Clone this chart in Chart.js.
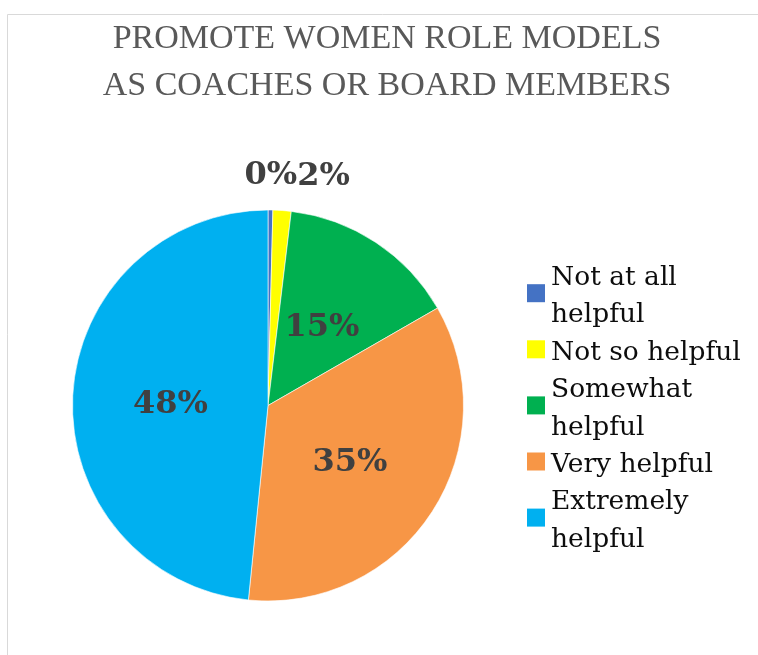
<!DOCTYPE html>
<html>
<head>
<meta charset="utf-8">
<script src="https://cdn.jsdelivr.net/npm/chart.js@4"></script>
<style>
    html, body { margin: 0; padding: 0; background: #ffffff; }
    #wrap { position: relative; width: 758px; height: 655px; }
</style>
</head>
<body>
<div id="wrap"><canvas id="chart-canvas"></canvas></div>
<script>
// Chart data
const titleLines = ['PROMOTE WOMEN ROLE MODELS', 'AS COACHES OR BOARD MEMBERS'];
const categories = ['Not at all helpful', 'Not so helpful', 'Somewhat helpful', 'Very helpful', 'Extremely helpful'];
const shares = [0.4, 1.5, 14.8, 34.9, 48.4];
const sliceColors = ['#4472C4', '#FFFF00', '#00B050', '#F79646', '#00B0F0'];

const labelFont = 'bold 32px "DejaVu Serif"';
const legendFont = '26.5px "DejaVu Serif"';

// Light frame + title drawn behind the chart
const framePlugin = {
    id: 'frame',
    beforeDraw(chart) {
        const ctx = chart.ctx;
        ctx.save();
        ctx.strokeStyle = '#d9d9d9';
        ctx.lineWidth = 1;
        ctx.beginPath();
        ctx.moveTo(7.5, chart.height);
        ctx.lineTo(7.5, 14.5);
        ctx.lineTo(chart.width, 14.5);
        ctx.stroke();

        ctx.fillStyle = '#595959';
        ctx.font = '34px "Liberation Serif"';
        ctx.textAlign = 'center';
        ctx.textBaseline = 'alphabetic';
        titleLines.forEach((line, i) => ctx.fillText(line, 387, 48 + i * 47));
        ctx.restore();
    }
};

// Percentage labels: inside at mid radius, outside for tiny slices
const pctLabels = {
    id: 'pctLabels',
    afterDatasetsDraw(chart) {
        const ctx = chart.ctx;
        const meta = chart.getDatasetMeta(0);
        const total = shares.reduce((a, b) => a + b, 0);
        ctx.save();
        ctx.font = labelFont;
        ctx.fillStyle = '#404040';
        ctx.textAlign = 'center';
        ctx.textBaseline = 'middle';
        let prevRight = -Infinity;
        meta.data.forEach((arc, i) => {
            const pct = shares[i] / total * 100;
            const text = Math.round(pct) + '%';
            const w = ctx.measureText(text).width;
            const mid = (arc.startAngle + arc.endAngle) / 2;
            let x, y;
            if (pct < 3) {
                const r = arc.outerRadius + 35;
                x = arc.x + Math.cos(mid) * r;
                y = arc.y + Math.sin(mid) * r + 1;
                if (x - w / 2 < prevRight) x = prevRight + w / 2;
                prevRight = x + w / 2;
            } else {
                const r = arc.outerRadius / 2;
                x = arc.x + Math.cos(mid) * r;
                y = arc.y + Math.sin(mid) * r + 4;
            }
            ctx.fillText(text, x, y);
        });
        ctx.restore();
    }
};

// Legend on the right with wrapped labels
const sideLegend = {
    id: 'sideLegend',
    afterDraw(chart) {
        const ctx = chart.ctx;
        const left = 527, textX = 551, maxWidth = 200, step = 37.4;
        let baseline = 285;
        ctx.save();
        ctx.font = legendFont;
        ctx.textAlign = 'left';
        ctx.textBaseline = 'alphabetic';
        categories.forEach((name, i) => {
            // wrap words to fit
            const lines = [];
            let cur = '';
            name.split(' ').forEach((word) => {
                const test = cur ? cur + ' ' + word : word;
                if (cur && ctx.measureText(test).width > maxWidth) {
                    lines.push(cur);
                    cur = word;
                } else {
                    cur = test;
                }
            });
            lines.push(cur);

            const first = baseline;
            ctx.fillStyle = '#0d0d0d';
            lines.forEach((line) => {
                ctx.fillText(line, textX, baseline);
                baseline += step;
            });
            const last = baseline - step;
            const cy = (first + last) / 2 - 10.5;
            ctx.fillStyle = sliceColors[i];
            ctx.fillRect(left, cy - 9, 18, 18);
        });
        ctx.restore();
    }
};

new Chart(document.getElementById('chart-canvas'), {
    type: 'pie',
    data: {
        labels: categories,
        datasets: [{
            data: shares,
            backgroundColor: sliceColors,
            borderColor: 'rgba(255,255,255,0.6)',
            borderWidth: 1,
        }],
    },
    options: {
        responsive: true,
        maintainAspectRatio: false,
        animation: false,
        events: [],
        layout: {
            padding: { left: 72, right: 294, top: 209, bottom: 53 },
        },
        plugins: {
            legend: { display: false },
            title: { display: false },
            tooltip: { enabled: false },
        },
    },
    plugins: [framePlugin, pctLabels, sideLegend],
});
</script>
</body>
</html>
